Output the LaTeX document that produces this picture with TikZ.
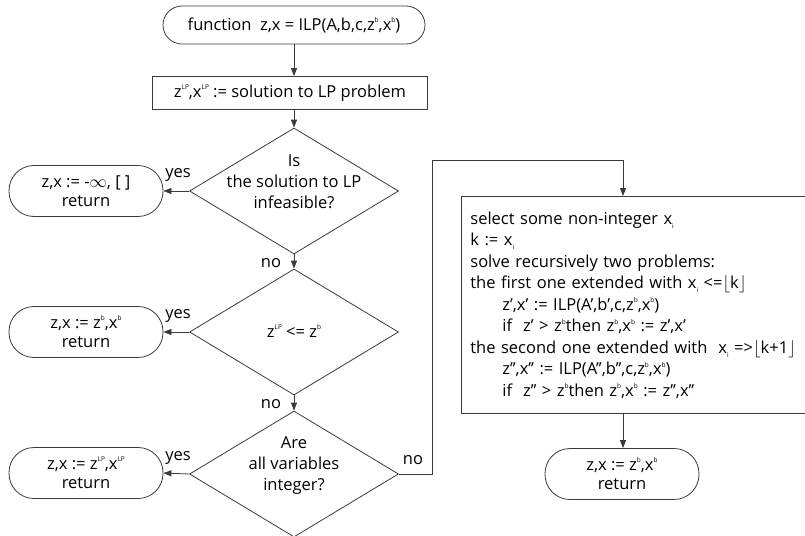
\documentclass[tikz,border=0pt]{standalone}
\usepackage{fontspec}
\setmainfont{Open Sans}
\usetikzlibrary{shapes.geometric,arrows.meta}
\newcommand{\supr}[1]{\raisebox{0.85ex}{\fontsize{6.5}{6.5}\selectfont #1}}
\newcommand{\subr}[1]{\raisebox{-0.45ex}{\fontsize{6.5}{6.5}\selectfont #1}}
\definecolor{linec}{HTML}{3A3A3A}
\begin{document}
\begin{tikzpicture}[x=1pt,y=1pt,line width=0.8pt,
  every node/.style={font=\fontsize{16.5}{21}\selectfont, text=black},
  term/.style={draw=linec, rounded corners=25pt, minimum width=154pt, minimum height=51pt, align=center, inner sep=0pt, font=\fontsize{16.5}{19.5}\selectfont},
  startbox/.style={draw=linec, rounded corners=19pt, minimum width=262pt, minimum height=38pt, inner sep=0pt},
  procbox/.style={draw=linec, minimum width=275pt, minimum height=33pt, inner sep=0pt},
  dec/.style={diamond, draw=linec, minimum width=209pt, minimum height=126pt, inner sep=0pt},
  dtext/.style={align=center, inner sep=0pt},
  lab/.style={inner sep=0pt},
  arr/.style={draw=linec, -{Triangle[length=8pt,width=6pt]}}]
\useasboundingbox (0,0) rectangle (805,-535);

\node[startbox] (start) at (294,-25) {function\ \ z,x = ILP(A,b,c,z\supr{b},x\supr{b})};
\node[procbox] (proc) at (290,-93) {z\supr{LP},x\supr{LP} := solution to LP problem};

\node[dec] (d1) at (294,-191) {};
\node[dtext] (d1t) at (294,-182) {Is\\the solution to LP\\infeasible?};
\node[dec] (d2) at (294,-332) {};
\node[dtext] (d2t) at (294,-331) {z\supr{LP} <= z\supr{b}};
\node[dec] (d3) at (294,-474) {};
\node[dtext] (d3t) at (294,-466) {Are\\all variables\\integer?};

\node[term] (t1) at (86,-191) {z,x := -$\infty$, [ ]\\return};
\node[term] (t2) at (86,-332) {z,x := z\supr{b},x\supr{b}\\return};
\node[term] (t3) at (86,-473) {z,x := z\supr{LP},x\supr{LP}\\return};

\node[draw=linec, anchor=north west, minimum width=360pt, minimum height=217pt,
      inner xsep=9pt, inner ysep=0pt, align=left, text width=342pt,
      font=\fontsize{16.5}{21.5}\selectfont] (rec) at (461,-196)
 {select some non-integer x\subr{i}\\
  k := x\subr{i}\\
  solve recursively two problems:\\
  the first one extended with x\subr{i} <=$\lfloor$k$\rfloor$\\
  \hspace*{32pt}z’,x’ := ILP(A’,b’,c,z\supr{b},x\supr{b})\\
  \hspace*{32pt}if\ \ z’ > z\supr{b}then z\supr{b},x\supr{b} := z’,x’\\
  the second one extended with\ \ x\subr{i} =>$\lfloor$k+1$\rfloor$\\
  \hspace*{32pt}z’’,x’’ := ILP(A’’,b’’,c,z\supr{b},x\supr{b})\\
  \hspace*{32pt}if\ \ z’’ > z\supr{b}then z\supr{b},x\supr{b} := z’’,x’’};

\node[term] (t4) at (622,-474) {z,x := z\supr{b},x\supr{b}\\return};

\coordinate (c1) at (432,-474);
\coordinate (c2) at (432,-160);
\coordinate (c3) at (623,-160);
\coordinate (c4) at (623,-196);
\coordinate (c5) at (623,-413);

\draw[arr] (start) -- (proc.north -| start);
\draw[arr] (proc.south -| d1) -- (d1.north);
\draw[arr] (d1.south) -- (d2.north);
\draw[arr] (d2.south) -- (d3.north);
\draw[arr] (d1.west) -- (t1.east);
\draw[arr] (d2.west) -- (t2.east);
\draw[arr] (d3.west) -- (t3.east);
\draw[arr] (d3.east) -- (c1) -- (c2) -- (c3) -- (c4);
\draw[arr] (c5) -- (t4.north -| c5);

\node[lab] (y1) at (178,-175) {yes};
\node[lab] (y2) at (178,-316) {yes};
\node[lab] (y3) at (178,-458) {yes};
\node[lab] (n1) at (271,-263) {no};
\node[lab] (n2) at (271,-404) {no};
\node[lab] (n3) at (413,-460) {no};
\end{tikzpicture}
\end{document}
